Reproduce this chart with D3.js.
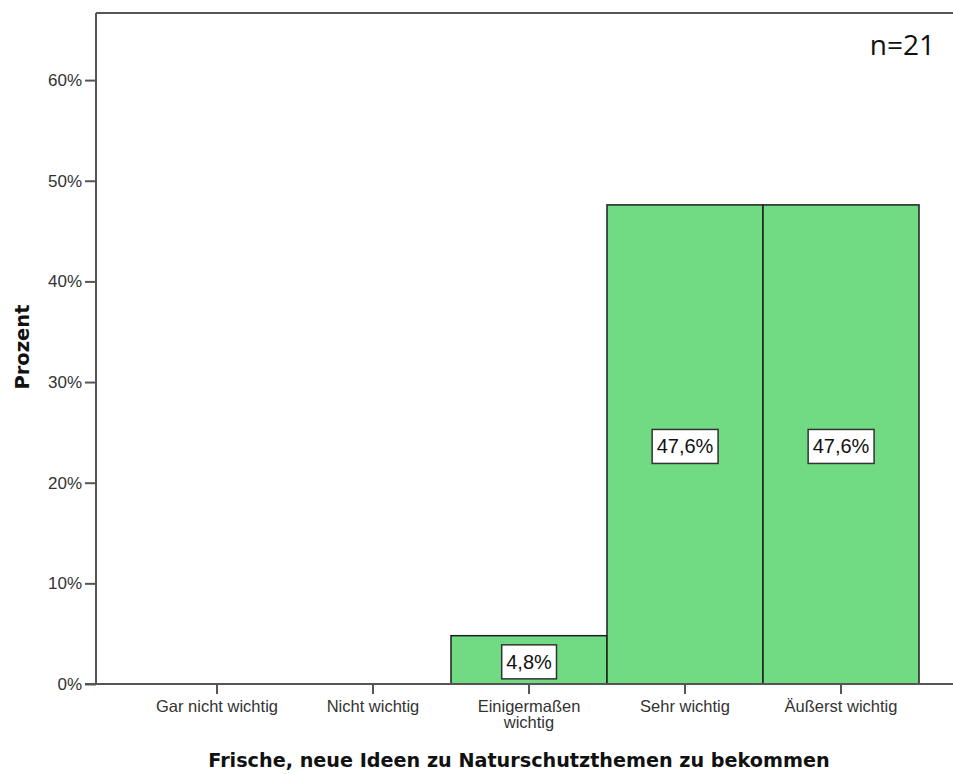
<!DOCTYPE html>
<html><head><meta charset="utf-8">
<script src="https://cdn.jsdelivr.net/npm/d3@7"></script>
<style>body{margin:0;background:#fff}svg{display:block}</style>
</head><body>
<svg id="c" width="953" height="774"></svg>
<script>
const categories = ["Gar nicht wichtig", "Nicht wichtig", "Einigermaßen wichtig", "Sehr wichtig", "Äußerst wichtig"];
const categoryLines = [["Gar nicht wichtig"], ["Nicht wichtig"], ["Einigermaßen", "wichtig"], ["Sehr wichtig"], ["Äußerst wichtig"]];
const values = [0, 0, 4.8, 47.6, 47.6];
const valueLabels = ["", "", "4,8%", "47,6%", "47,6%"];
const yTicks = [0, 10, 20, 30, 40, 50, 60];
const xTitle = "Frische, neue Ideen zu Naturschutzthemen zu bekommen";
const yTitle = "Prozent";
const note = "n=21";

const svg = d3.select("#c");
const plotL = 96, plotT = 13, plotR = 953, plotB = 684;
const y = d3.scaleLinear().domain([0, 200/3]).range([plotB, plotT]);
const x = d3.scaleBand().domain(categories).range([139, 919]).padding(0);

// frame line on top
svg.append("line").attr("x1", plotL).attr("x2", plotR).attr("y1", plotT).attr("y2", plotT)
  .attr("stroke", "#555").attr("stroke-width", 2);

// bars
const data = categories.map((c, i) => ({c, v: values[i], lab: valueLabels[i]}));
svg.selectAll("rect.bar").data(data.filter(d => d.v > 0)).enter().append("rect")
  .attr("class", "bar")
  .attr("x", d => x(d.c)).attr("width", x.bandwidth())
  .attr("y", d => y(d.v)).attr("height", d => y(0) - y(d.v))
  .attr("fill", "#71db83").attr("stroke", "#1e1e1e").attr("stroke-width", 1.5);

// y axis
const yAxis = d3.axisLeft(y).tickValues(yTicks).tickFormat(d => d + "%").tickSize(11).tickPadding(3);
const gy = svg.append("g").attr("transform", `translate(${plotL},0)`).call(yAxis);
gy.select(".domain").attr("stroke", "#555").attr("stroke-width", 2).attr("d", `M-11,${plotB}H0V${plotT}`);
gy.selectAll(".tick line").attr("stroke", "#555").attr("stroke-width", 2);
gy.selectAll(".tick text").attr("font-family", "'Liberation Sans', Arial, sans-serif")
  .attr("font-size", 17).attr("fill", "#333");

// x axis
const xAxis = d3.axisBottom(x).tickSize(10).tickFormat("");
const gx = svg.append("g").attr("transform", `translate(0,${plotB})`).call(xAxis);
gx.select(".domain").attr("stroke", "#555").attr("stroke-width", 2).attr("d", `M${plotL},0H${plotR}`);
gx.selectAll(".tick line").attr("stroke", "#555").attr("stroke-width", 2);
gx.selectAll(".tick").each(function(d, i) {
  const t = d3.select(this).append("text")
    .attr("text-anchor", "middle")
    .attr("font-family", "'Liberation Sans', Arial, sans-serif")
    .attr("font-size", 16.5).attr("fill", "#333");
  categoryLines[i].forEach((ln, k) => {
    t.append("tspan").attr("x", 0).attr("y", 28 + k * 16).text(ln);
  });
});

// value labels
const lg = svg.selectAll("g.vl").data(data.filter(d => d.lab)).enter().append("g")
  .attr("class", "vl")
  .attr("transform", d => `translate(${x(d.c) + x.bandwidth()/2},${(y(d.v) + y(0))/2 + 2})`);
lg.append("text").attr("text-anchor", "middle").attr("dy", "0.35em")
  .attr("font-family", "'Liberation Sans', Arial, sans-serif").attr("font-size", 20).attr("fill", "#111")
  .text(d => d.lab);
lg.each(function() {
  const g = d3.select(this);
  const bb = g.select("text").node().getBBox();
  g.insert("rect", "text").attr("x", bb.x - 4.5).attr("y", -17).attr("width", bb.width + 9).attr("height", 34)
    .attr("fill", "#fff").attr("stroke", "#333").attr("stroke-width", 1.5);
});

// titles
svg.append("text").attr("x", 519).attr("y", 767).attr("text-anchor", "middle")
  .attr("font-family", "'DejaVu Sans', Verdana, sans-serif").attr("font-weight", "bold")
  .attr("font-size", 19.2).attr("fill", "#111").text(xTitle);
svg.append("text").attr("transform", "translate(29,347) rotate(-90)").attr("text-anchor", "middle")
  .attr("font-family", "'DejaVu Sans', Verdana, sans-serif").attr("font-weight", "bold")
  .attr("font-size", 19.5).attr("fill", "#111").text(yTitle);
svg.append("text").attr("x", 935).attr("y", 55).attr("text-anchor", "end")
  .attr("font-family", "'Open Sans', 'Noto Sans', sans-serif")
  .attr("font-size", 28).attr("fill", "#111").text(note);
</script>
</body></html>
